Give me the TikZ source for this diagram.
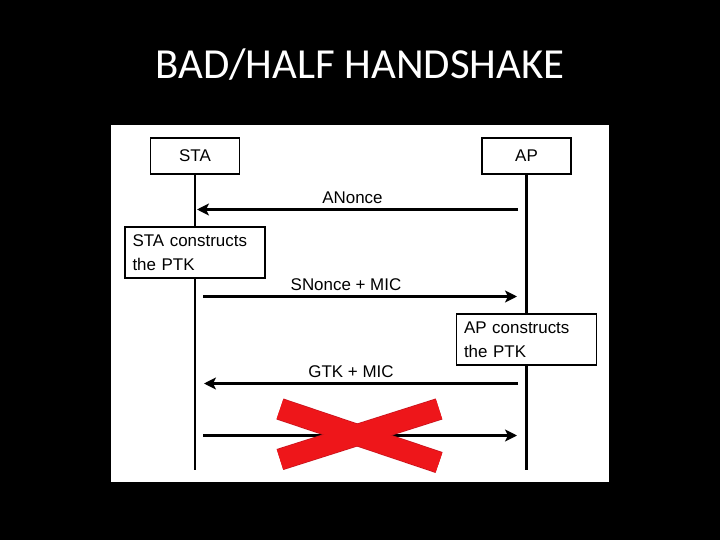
\documentclass[tikz,border=0pt]{standalone}
\usepackage{fontspec}
\setmainfont{Liberation Sans}
\newfontfamily\titlefont{Carlito}
\usetikzlibrary{arrows.meta}
\definecolor{crossred}{RGB}{238,22,26}
\definecolor{crossedge}{RGB}{200,20,30}
\begin{document}
\begin{tikzpicture}[x=1bp,y=-1bp,
  actor/.style={draw,line width=1.7bp,minimum width=89bp,minimum height=36bp,inner sep=0pt},
  note/.style={draw,fill=white,line width=1.7bp,minimum width=140bp,minimum height=51bp,
    text width=125bp,inner xsep=7.5bp,align=left},
  lifeline/.style={line width=2.5bp},
  msg/.style={line width=2.5bp,-{Stealth[length=12bp,width=12bp,inset=3bp]}},
  msglabel/.style={above,inner sep=4.5bp},
  xedge/.style={crossedge,line width=22bp},
  xbar/.style={crossred,line width=20.5bp}]
  % slide and panel
  \fill[black] (0,0) rectangle (720,540);
  \useasboundingbox (0,0) rectangle (720,540);
  \node[anchor=base,text=white,font=\titlefont\fontsize{43}{50}\selectfont] (title) at (360,79) {BAD/HALF HANDSHAKE};
  \fill[white] (111,125) rectangle (609,482);
  \begin{scope}[font=\fontsize{17}{24}\selectfont]
  % actors and lifelines
  \node[actor] (sta) at (195,156) {STA};
  \node[actor] (ap) at (526.5,156) {AP};
  \coordinate (staend) at (195,470);
  \coordinate (apend) at (526.5,470);
  \draw[lifeline] (sta) -- (staend);
  \draw[lifeline] (ap) -- (apend);
  \node[note] (stanote) at (195,252.5) {STA constructs\\the PTK};
  \node[note] (apnote) at (526.5,339.5) {AP constructs\\the PTK};
  % messages
  \coordinate (m1a) at (518,209.5);  \coordinate (m1b) at (197,209.5);
  \coordinate (m2a) at (203,296.5);  \coordinate (m2b) at (517,296.5);
  \coordinate (m3a) at (518,383.5);  \coordinate (m3b) at (204,383.5);
  \coordinate (m4a) at (203,435.5);  \coordinate (m4b) at (517,435.5);
  \draw[msg] (m1a) -- node[msglabel,xshift=-5bp] {ANonce} (m1b);
  \draw[msg] (m2a) -- node[msglabel,xshift=-14bp] {SNonce + MIC} (m2b);
  \draw[msg] (m3a) -- node[msglabel,xshift=-10bp] {GTK + MIC} (m3b);
  \draw[msg] (m4a) -- (m4b);
  \end{scope}
  % red cross over the last message
  \foreach \s in {xedge,xbar} {
    \draw[\s] (280,409) -- (439,462.5);
    \draw[\s] (280,459.5) -- (439,409);
  }
\end{tikzpicture}
\end{document}
